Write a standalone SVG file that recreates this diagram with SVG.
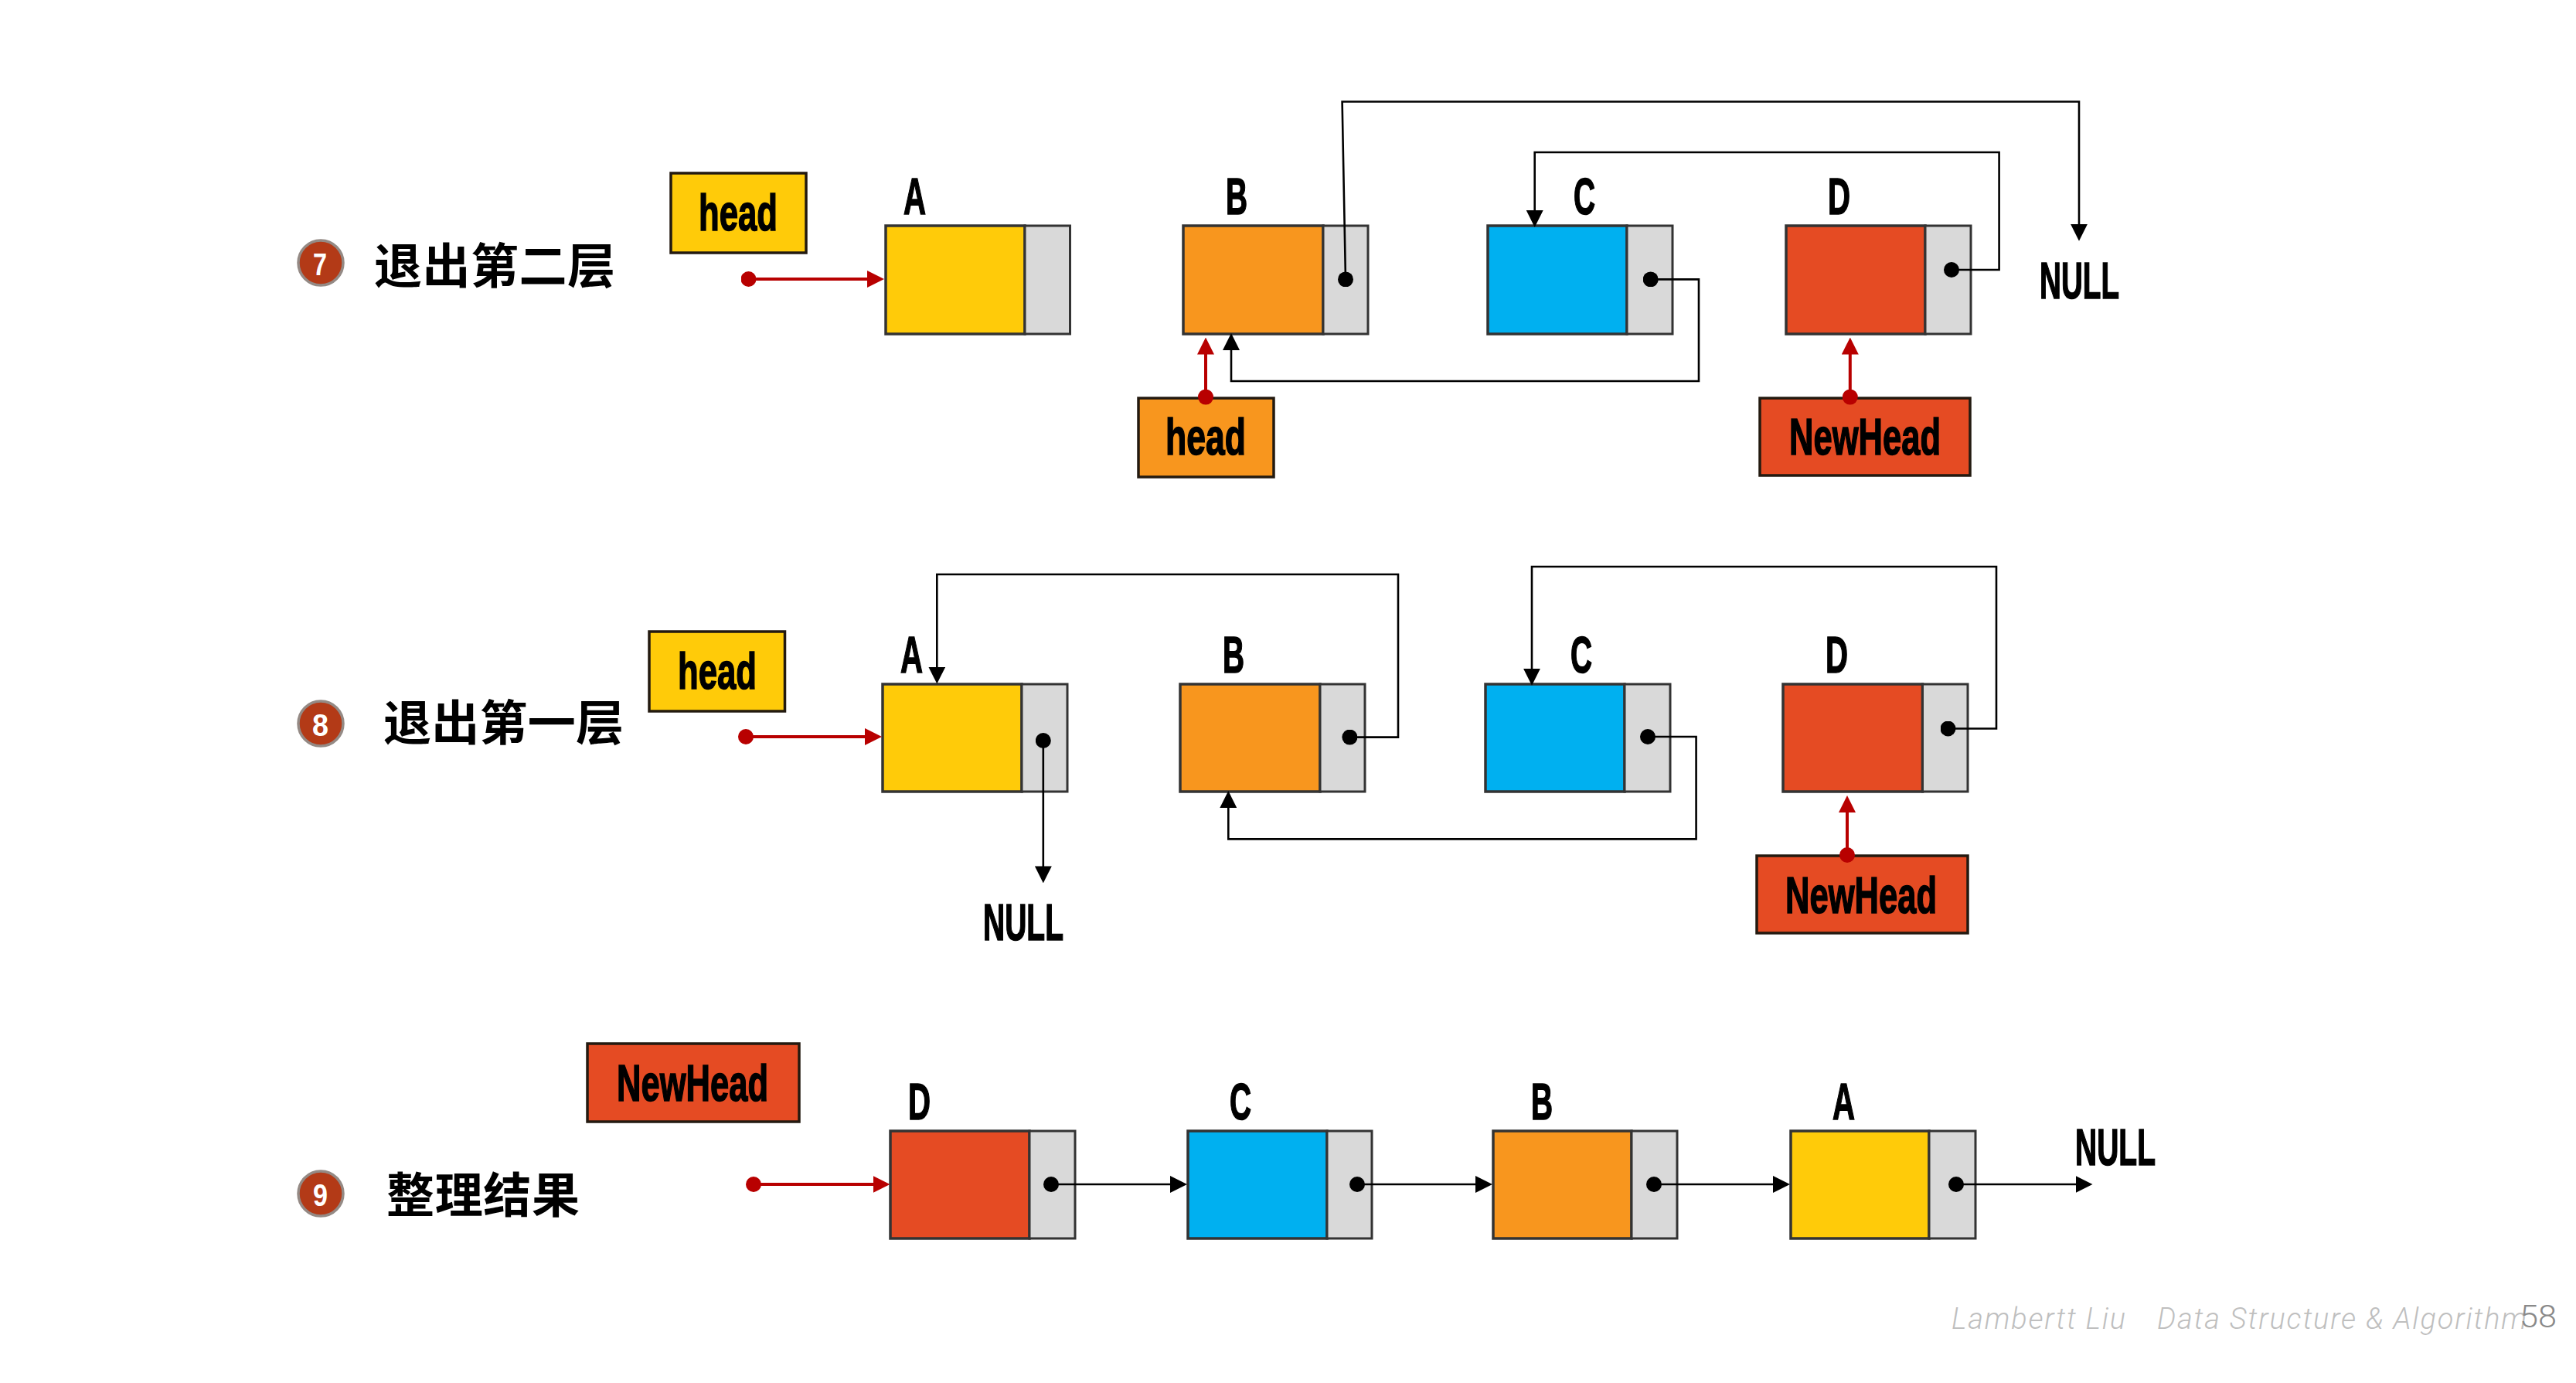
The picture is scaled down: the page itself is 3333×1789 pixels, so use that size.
<svg xmlns="http://www.w3.org/2000/svg" width="3333" height="1789" viewBox="0 0 3333 1789">
<style>
.bg{fill:#fff}
.n{stroke:#333;stroke-width:3.5}
.p{fill:#d9d9d9;stroke:#333;stroke-width:3}
.y{fill:#ffcb09}.o{fill:#f8961e}.b{fill:#00b0f0}.r{fill:#e54b23}
.box{stroke:#231a10;stroke-width:3.5}
.t{font-family:"Liberation Sans",Arial,sans-serif;font-weight:700;font-size:67px;fill:#000;stroke:#000;stroke-width:1.6}
.zh{font-family:"Noto Sans CJK SC",sans-serif;font-weight:700;font-size:62px;fill:#000}
.ring{fill:#b33a17;stroke:#948a85;stroke-width:3.5}
.d{font-family:"Liberation Sans",Arial,sans-serif;font-weight:700;font-size:40px;fill:#fff}
.k{fill:none;stroke:#000;stroke-width:2.6;marker-start:url(#dot);marker-end:url(#ah)}
.q{fill:none;stroke:#b80000;stroke-width:4;marker-start:url(#rdot);marker-end:url(#rah)}
.f{font-family:Roboto,"Liberation Sans",sans-serif;font-weight:300;font-style:italic;font-size:38px;fill:#bfbfbf}
.pg{font-family:Roboto,"Liberation Sans",sans-serif;font-weight:300;font-size:41px;fill:#898989}
</style>
<defs>
<marker id="ah" markerUnits="userSpaceOnUse" markerWidth="22" markerHeight="22" viewBox="0 0 20 20" refX="10" refY="10" orient="auto"><path d="M0 0L20 10L0 20z" fill="#000"/></marker>
<marker id="rah" markerUnits="userSpaceOnUse" markerWidth="22" markerHeight="22" viewBox="0 0 20 20" refX="10" refY="10" orient="auto"><path d="M0 0L20 10L0 20z" fill="#b80000"/></marker>
<marker id="dot" markerUnits="userSpaceOnUse" markerWidth="20" markerHeight="20" viewBox="0 0 20 20" refX="10" refY="10"><circle cx="10" cy="10" r="10" fill="#000"/></marker>
<marker id="rdot" markerUnits="userSpaceOnUse" markerWidth="20" markerHeight="20" viewBox="0 0 20 20" refX="10" refY="10"><circle cx="10" cy="10" r="10" fill="#b80000"/></marker>
</defs>
<rect class="bg" width="3333" height="1789"/>

<g id="step7">
<circle class="ring" cx="415" cy="340" r="29"/><text class="d" x="405" y="356" textLength="18" lengthAdjust="spacingAndGlyphs">7</text>
<text class="zh" x="484" y="367" textLength="312">退出第二层</text>
</g>
<g id="step8">
<circle class="ring" cx="415" cy="936" r="29"/><text class="d" x="404" y="952" textLength="21" lengthAdjust="spacingAndGlyphs">8</text>
<text class="zh" x="496" y="958" textLength="311">退出第一层</text>
</g>
<g id="step9">
<circle class="ring" cx="415" cy="1544" r="29"/><text class="d" x="405" y="1560" textLength="19" lengthAdjust="spacingAndGlyphs">9</text>
<text class="zh" x="500" y="1569" textLength="250">整理结果</text>
</g>

<g id="row7-head"><rect class="box y" x="868" y="224" width="175" height="103"/><text class="t" x="904" y="298" textLength="102" lengthAdjust="spacingAndGlyphs">head</text></g>
<g id="row7-A"><rect class="n y" x="1146" y="292" width="180" height="140"/><rect class="p" x="1326" y="292" width="58.500" height="140"/><text class="t" x="1169" y="277" textLength="29" lengthAdjust="spacingAndGlyphs">A</text></g>
<g id="row7-B"><rect class="n o" x="1531" y="292" width="181" height="140"/><rect class="p" x="1712" y="292" width="58" height="140"/><text class="t" x="1586" y="277" textLength="28" lengthAdjust="spacingAndGlyphs">B</text></g>
<g id="row7-C"><rect class="n b" x="1925" y="292" width="180" height="140"/><rect class="p" x="2105" y="292" width="59" height="140"/><text class="t" x="2036" y="277" textLength="28" lengthAdjust="spacingAndGlyphs">C</text></g>
<g id="row7-D"><rect class="n r" x="2311" y="292" width="180" height="140"/><rect class="p" x="2491" y="292" width="59" height="140"/><text class="t" x="2365" y="277" textLength="29" lengthAdjust="spacingAndGlyphs">D</text></g>
<g id="row7-null"><text class="t" x="2639" y="386" textLength="103" lengthAdjust="spacingAndGlyphs">NULL</text></g>
<g id="row7-head2"><rect class="box o" x="1473" y="515" width="175" height="102"/><text class="t" x="1508" y="588" textLength="104" lengthAdjust="spacingAndGlyphs">head</text></g>
<g id="row7-newhead"><rect class="box r" x="2277" y="515" width="272" height="100"/><text class="t" x="2315" y="588" textLength="196" lengthAdjust="spacingAndGlyphs">NewHead</text></g>

<g id="row8-head"><rect class="box y" x="840" y="817" width="175.500" height="103"/><text class="t" x="877" y="891" textLength="102" lengthAdjust="spacingAndGlyphs">head</text></g>
<g id="row8-A"><rect class="n y" x="1142" y="885" width="180" height="139"/><rect class="p" x="1322" y="885" width="59" height="139"/><text class="t" x="1165" y="870" textLength="29" lengthAdjust="spacingAndGlyphs">A</text></g>
<g id="row8-B"><rect class="n o" x="1527" y="885" width="181" height="139"/><rect class="p" x="1708" y="885" width="58" height="139"/><text class="t" x="1582" y="870" textLength="28" lengthAdjust="spacingAndGlyphs">B</text></g>
<g id="row8-C"><rect class="n b" x="1922" y="885" width="180" height="139"/><rect class="p" x="2102" y="885" width="59" height="139"/><text class="t" x="2032" y="870" textLength="28" lengthAdjust="spacingAndGlyphs">C</text></g>
<g id="row8-D"><rect class="n r" x="2307" y="885" width="180.500" height="139"/><rect class="p" x="2487.500" y="885" width="58.500" height="139"/><text class="t" x="2362" y="870" textLength="29" lengthAdjust="spacingAndGlyphs">D</text></g>
<g id="row8-null"><text class="t" x="1272" y="1216" textLength="104" lengthAdjust="spacingAndGlyphs">NULL</text></g>
<g id="row8-newhead"><rect class="box r" x="2273" y="1107" width="273" height="100"/><text class="t" x="2310" y="1181" textLength="196" lengthAdjust="spacingAndGlyphs">NewHead</text></g>

<g id="row9-newhead"><rect class="box r" x="760" y="1350" width="274" height="101"/><text class="t" x="798" y="1424" textLength="196" lengthAdjust="spacingAndGlyphs">NewHead</text></g>
<g id="row9-D"><rect class="n r" x="1152" y="1463" width="180" height="139"/><rect class="p" x="1332" y="1463" width="59" height="139"/><text class="t" x="1175" y="1448" textLength="29" lengthAdjust="spacingAndGlyphs">D</text></g>
<g id="row9-C"><rect class="n b" x="1537" y="1463" width="180" height="139"/><rect class="p" x="1717" y="1463" width="58" height="139"/><text class="t" x="1591" y="1448" textLength="28" lengthAdjust="spacingAndGlyphs">C</text></g>
<g id="row9-B"><rect class="n o" x="1932" y="1463" width="179" height="139"/><rect class="p" x="2111" y="1463" width="59" height="139"/><text class="t" x="1981" y="1448" textLength="28" lengthAdjust="spacingAndGlyphs">B</text></g>
<g id="row9-A"><rect class="n y" x="2317" y="1463" width="179" height="139"/><rect class="p" x="2496" y="1463" width="60" height="139"/><text class="t" x="2371" y="1448" textLength="29" lengthAdjust="spacingAndGlyphs">A</text></g>
<g id="row9-null"><text class="t" x="2685" y="1507" textLength="104" lengthAdjust="spacingAndGlyphs">NULL</text></g>

<g id="connectors">
<path class="q" d="M968.500 361H1133"/>
<path class="q" d="M1560 513.600V447.500"/>
<path class="q" d="M2393.800 513.600V447.500"/>
<path class="k" d="M1741 361.400L1736.600 131.500H2690V300.700"/>
<path class="k" d="M2525 349H2586.600V197H1985.700V283"/>
<path class="k" d="M2135.700 361.400H2198V493H1593V442"/>
<path class="q" d="M965 953H1130"/>
<path class="q" d="M2390 1106V1040"/>
<path class="k" d="M1349.800 958V1131.400"/>
<path class="k" d="M1746.400 953.600H1809V743H1212.300V873.600"/>
<path class="k" d="M2132 953H2194.600V1085.400H1589.300V1034"/>
<path class="k" d="M2520.500 942.500H2583V733H1982V875.700"/>
<path class="q" d="M975 1532H1140.500"/>
<path class="k" d="M1360 1532H1525"/>
<path class="k" d="M1756 1532H1920"/>
<path class="k" d="M2140 1532H2305"/>
<path class="k" d="M2531 1532H2696.500"/>
</g>

<g id="footer">
<text class="f" x="2525" y="1719"><tspan x="2525" textLength="225">Lambertt Liu</tspan><tspan x="2791" textLength="478">Data Structure &amp; Algorithm</tspan></text>
<text class="pg" x="3260" y="1717" textLength="48" lengthAdjust="spacingAndGlyphs">58</text>
</g>
</svg>
